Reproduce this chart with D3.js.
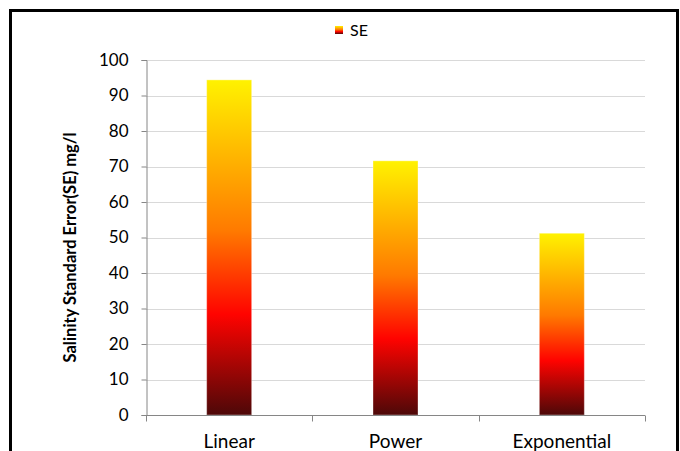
<!DOCTYPE html>
<html><head><meta charset="utf-8">
<script src="https://cdn.jsdelivr.net/npm/d3@7"></script>
<style>body{margin:0;background:#fff;}svg{display:block;}</style>
</head><body>
<svg id="c" width="680" height="451"></svg>
<script>
const categories = ["Linear", "Power", "Exponential"];
const seValues = [94.4, 71.6, 51.2];
const yTicks = [0, 10, 20, 30, 40, 50, 60, 70, 80, 90, 100];
const seriesName = "SE";
const yTitle = "Salinity Standard Error(SE) mg/l";

const svg = d3.select("#c");
const font = "Lato, 'Open Sans', sans-serif";
const m = {l: 146, r: 645, t: 60, b: 415};

const defs = svg.append("defs");
const grad = defs.append("linearGradient").attr("id", "fire")
  .attr("x1", 0).attr("y1", 0).attr("x2", 0).attr("y2", 1);
[[0, "#fff200"], [0.45, "#ff7a00"], [0.7, "#ff0300"], [1, "#4d0808"]]
  .forEach(([o, c]) => grad.append("stop").attr("offset", o).attr("stop-color", c));

svg.append("rect").attr("x", 10.5).attr("y", 10.5).attr("width", 667).attr("height", 460)
  .attr("fill", "#fff").attr("stroke", "#000").attr("stroke-width", 3);

const x = d3.scaleBand().domain(categories).range([m.l, m.r]).paddingInner(0).paddingOuter(0);
const y = d3.scaleLinear().domain([0, 100]).range([m.b, m.t]);

// gridlines
svg.append("g").selectAll("line").data(yTicks.filter(d => d > 0)).join("line")
  .attr("x1", m.l).attr("x2", m.r)
  .attr("y1", d => Math.round(y(d)) + 0.5).attr("y2", d => Math.round(y(d)) + 0.5)
  .attr("stroke", "#d9d9d9").attr("stroke-width", 1);

// bars
const bw = 45;
svg.append("g").selectAll("rect").data(seValues).join("rect")
  .attr("x", (d, i) => x(categories[i]) + x.bandwidth() / 2 - bw / 2)
  .attr("y", d => y(d))
  .attr("width", bw)
  .attr("height", d => y(0) - y(d))
  .attr("fill", "url(#fire)")
  .attr("stroke", "rgba(255,255,255,0.35)").attr("stroke-width", 1);

// y axis
const yAxis = svg.append("g").attr("transform", `translate(${m.l + 0.5},0)`)
  .call(d3.axisLeft(y).tickValues(yTicks).tickSize(5).tickPadding(13));
yAxis.select(".domain").attr("stroke", "#868686");
yAxis.selectAll(".tick line").attr("stroke", "#868686");
yAxis.selectAll(".tick text").attr("font-family", font).attr("font-size", 17).attr("fill", "#000");

// x axis
const xAxis = svg.append("g").attr("transform", `translate(0,${m.b + 0.5})`)
  .call(d3.axisBottom(x).tickSize(0).tickPadding(19));
xAxis.select(".domain").attr("stroke", "#868686").attr("d", `M${m.l},0H${m.r}`);
xAxis.selectAll(".tick text").attr("font-family", font).attr("font-size", 19).attr("fill", "#000");
const bounds = categories.map(c => x(c)).concat([m.r]);
xAxis.selectAll(".sep").data(bounds).join("line").attr("class", "sep")
  .attr("x1", d => Math.round(d) + 0.5).attr("x2", d => Math.round(d) + 0.5)
  .attr("y1", 0).attr("y2", 6).attr("stroke", "#868686");

// y title
svg.append("text").attr("transform", `translate(76,${(m.t + m.b) / 2 + 10}) rotate(-90)`)
  .attr("text-anchor", "middle").attr("font-family", font).attr("font-weight", "bold")
  .attr("font-size", 16.5).text(yTitle);

// legend
const lg = svg.append("g").attr("transform", "translate(335,26)");
lg.append("rect").attr("width", 8).attr("height", 8).attr("fill", "url(#fire)");
lg.append("text").attr("x", 15).attr("y", 9.5).attr("font-family", font).attr("font-size", 16)
  .text(seriesName);
</script>
</body></html>
